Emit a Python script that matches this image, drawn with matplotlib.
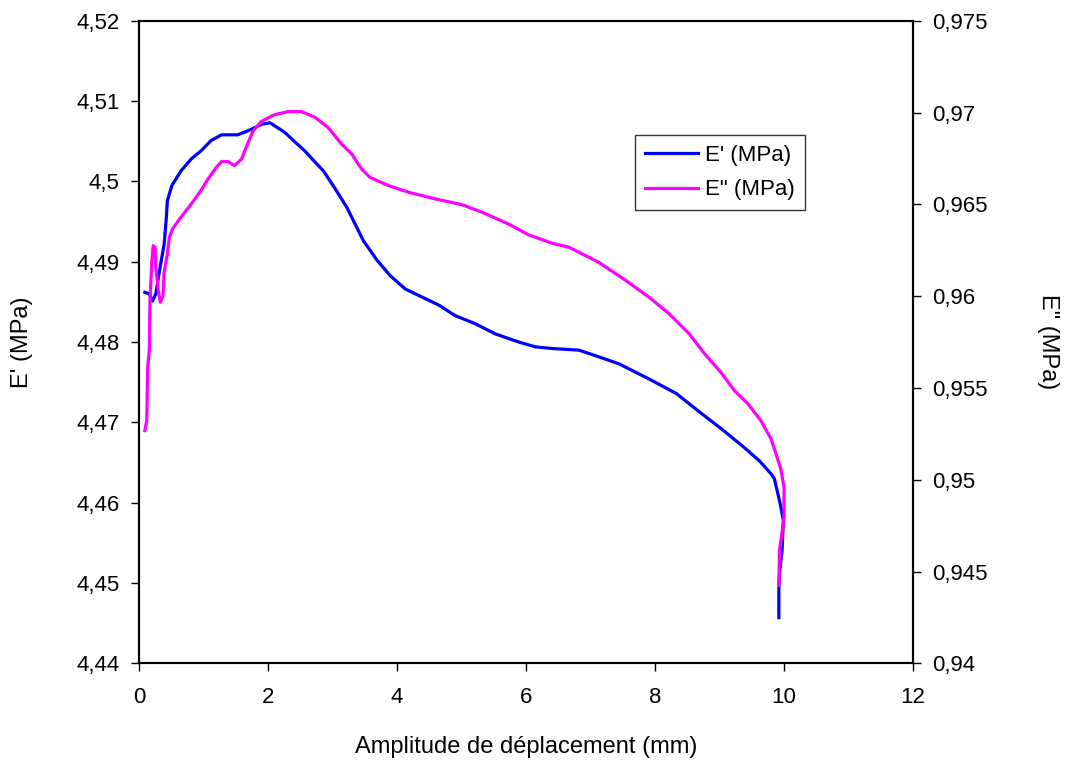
import matplotlib
matplotlib.use('Agg')
import matplotlib.pyplot as plt
from matplotlib.ticker import FuncFormatter, MultipleLocator

plt.rcParams['font.family'] = ['Liberation Sans', 'DejaVu Sans']

# E' (left axis)
x_e1 = [0.09, 0.16, 0.21, 0.26, 0.32, 0.39, 0.42, 0.44, 0.51, 0.65, 0.81, 0.96,
        1.12, 1.28, 1.53, 1.69, 1.90, 2.03, 2.26, 2.42, 2.57, 2.73, 2.86, 3.04,
        3.22, 3.35, 3.48, 3.69, 3.89, 4.13, 4.39, 4.65, 4.90, 5.21, 5.53, 5.89,
        6.15, 6.41, 6.82, 7.08, 7.44, 7.91, 8.33, 8.69, 9.03, 9.38, 9.62, 9.80,
        9.85, 9.94, 9.99, 9.97, 9.93, 9.92, 9.92]
e1 = [4.4862, 4.4860, 4.4851, 4.4860, 4.4890, 4.4922, 4.4951, 4.4976, 4.4995,
      4.5013, 4.5028, 4.5038, 4.5051, 4.5058, 4.5058, 4.5063, 4.5071, 4.5073,
      4.5061, 4.5049, 4.5038, 4.5024, 4.5013, 4.4991, 4.4968, 4.4947, 4.4926,
      4.4902, 4.4883, 4.4866, 4.4856, 4.4846, 4.4833, 4.4823, 4.4810, 4.4800,
      4.4794, 4.4792, 4.4790, 4.4783, 4.4773, 4.4754, 4.4736, 4.4713, 4.4692,
      4.4669, 4.4652, 4.4636, 4.4630, 4.4599, 4.4578, 4.4541, 4.4512, 4.4495,
      4.4457]

# E'' (right axis)
x_e2 = [0.09, 0.12, 0.135, 0.16, 0.17, 0.20, 0.22, 0.25, 0.26, 0.30, 0.33, 0.37,
        0.39, 0.44, 0.47, 0.52, 0.65, 0.81, 0.96, 1.07, 1.20, 1.28, 1.38, 1.48,
        1.59, 1.66, 1.77, 1.90, 2.10, 2.31, 2.52, 2.73, 2.93, 3.14, 3.30, 3.45,
        3.58, 3.87, 4.18, 4.59, 5.01, 5.32, 5.73, 6.04, 6.41, 6.67, 7.13, 7.55,
        7.91, 8.22, 8.53, 8.77, 9.02, 9.23, 9.44, 9.64, 9.80, 9.95, 10.00, 10.00,
        9.93, 9.92]
e2 = [0.95268, 0.95323, 0.95613, 0.95704, 0.95976, 0.96194, 0.96275, 0.96266,
      0.96157, 0.96030, 0.95967, 0.96000, 0.96130, 0.96230, 0.96320, 0.96366,
      0.96430, 0.96502, 0.96575, 0.96638, 0.96702, 0.96733, 0.96733, 0.96711,
      0.96747, 0.96810, 0.96901, 0.96952, 0.96988, 0.97005, 0.97005, 0.96974,
      0.96919, 0.96829, 0.96774, 0.96693, 0.96647, 0.96602, 0.96566, 0.96530,
      0.96498, 0.96457, 0.96393, 0.96334, 0.96288, 0.96266, 0.96184, 0.96085,
      0.95994, 0.95904, 0.95795, 0.95686, 0.95586, 0.95486, 0.95414, 0.95323,
      0.95223, 0.95060, 0.94960, 0.94796, 0.94615, 0.94425]


def comma(v, pos):
    return ('%g' % round(v, 4)).replace('.', ',')


fig = plt.figure(figsize=(10.66, 7.62), dpi=100)
ax = fig.add_axes([0.1304, 0.1293, 0.7261, 0.8435])
ax2 = ax.twinx()

l1, = ax.plot(x_e1, e1, color='#0000FF', lw=2.3, label="E' (MPa)")
l2, = ax2.plot(x_e2, e2, color='#FF00FF', lw=2.3, label='E" (MPa)')

ax.set_xlim(0, 12)
ax.set_ylim(4.44, 4.52)
ax2.set_ylim(0.94, 0.975)
ax.xaxis.set_major_locator(MultipleLocator(2))
ax.yaxis.set_major_locator(MultipleLocator(0.01))
ax2.yaxis.set_major_locator(MultipleLocator(0.005))
ax.xaxis.set_major_formatter(FuncFormatter(comma))
ax.yaxis.set_major_formatter(FuncFormatter(comma))
ax2.yaxis.set_major_formatter(FuncFormatter(comma))

for a in (ax, ax2):
    for s in a.spines.values():
        s.set_linewidth(1.5)
        s.set_color('black')
    a.tick_params(labelsize=16, length=6, width=1, pad=8)
ax.tick_params(axis='x', pad=11)

ax.set_xlabel('Amplitude de déplacement (mm)', fontsize=17, labelpad=20)
ax.set_ylabel("E' (MPa)", fontsize=17, labelpad=31)
ax2.set_ylabel('E" (MPa)', fontsize=17, rotation=270, labelpad=51)

leg = fig.legend(handles=[l1, l2], loc='upper left',
                 bbox_to_anchor=(0.5957, 0.8228), fontsize=16,
                 frameon=True, fancybox=False, handlelength=2.4,
                 borderpad=0.45, labelspacing=0.6, handletextpad=0.3,
                 borderaxespad=0)
leg.get_frame().set_edgecolor('black')
leg.get_frame().set_linewidth(1)

fig.savefig('out.png', dpi=100)
